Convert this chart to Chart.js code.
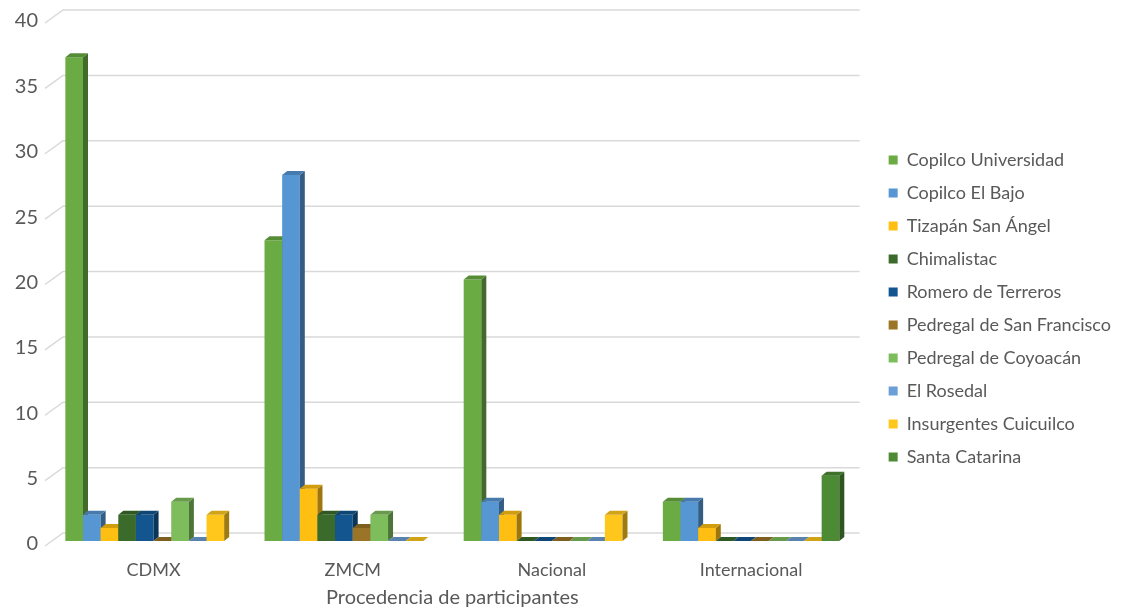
<!DOCTYPE html>
<html>
<head>
<meta charset="utf-8">
<script src="https://cdn.jsdelivr.net/npm/chart.js@4/dist/chart.umd.min.js"></script>
<style>
  html, body { margin: 0; padding: 0; background: #ffffff; }
  #wrap { width: 1121px; height: 610px; }
</style>
</head>
<body>
<div id="wrap"><canvas id="c" width="1121" height="610"></canvas></div>
<script>
// Participants by origin, one series per neighbourhood
const categories = ['CDMX', 'ZMCM', 'Nacional', 'Internacional'];
const seriesNames = [
  'Copilco Universidad', 'Copilco El Bajo', 'Tizapán San Ángel', 'Chimalistac',
  'Romero de Terreros', 'Pedregal de San Francisco', 'Pedregal de Coyoacán',
  'El Rosedal', 'Insurgentes Cuicuilco', 'Santa Catarina'
];
const copilcoUniversidad   = [37, 23, 20, 3];
const copilcoElBajo        = [2, 28, 3, 3];
const tizapanSanAngel      = [1, 4, 2, 1];
const chimalistac          = [2, 2, 0, 0];
const romeroDeTerreros     = [2, 2, 0, 0];
const pedregalSanFrancisco = [0, 1, 0, 0];
const pedregalCoyoacan     = [3, 2, 0, 0];
const elRosedal            = [0, 0, 0, 0];
const insurgentesCuicuilco = [2, 0, 2, 0];
const santaCatarina        = [null, null, null, 5];
const yTicks = [0, 5, 10, 15, 20, 25, 30, 35, 40];

const seriesValues = [
  copilcoUniversidad, copilcoElBajo, tizapanSanAngel, chimalistac,
  romeroDeTerreros, pedregalSanFrancisco, pedregalCoyoacan,
  elRosedal, insurgentesCuicuilco, santaCatarina
];
const seriesColors = [
  '#6aab43', '#5696d3', '#ffbf12', '#3b6b2a', '#12558f',
  '#9a7427', '#7dbd5c', '#6c9fd6', '#ffc71c', '#4c8a33'
];

const FONT = 'Lato, "Open Sans", sans-serif';
const TEXT = '#595959';

// depth of each column and offset of the back wall
const BAR_DX = 5, BAR_DY = 4;
const WALL_DX = 9, WALL_DY = 8;

function shade(hex, f) {
  const n = parseInt(hex.slice(1), 16);
  const r = Math.round(((n >> 16) & 255) * f);
  const g = Math.round(((n >> 8) & 255) * f);
  const b = Math.round((n & 255) * f);
  return `rgb(${r},${g},${b})`;
}

const columns3d = {
  id: 'columns3d',
  beforeDatasetsDraw(chart) {
    const { ctx, chartArea } = chart;
    const ys = chart.scales.y;
    ctx.save();
    ctx.strokeStyle = '#d9d9d9';
    ctx.lineWidth = 1.5;
    yTicks.forEach(v => {
      const y = ys.getPixelForValue(v);
      ctx.beginPath();
      ctx.moveTo(chartArea.left - WALL_DX, y + 5);
      ctx.lineTo(chartArea.left + WALL_DX, y - WALL_DY);
      ctx.lineTo(chartArea.right + WALL_DX, y - WALL_DY);
      ctx.stroke();
    });
    ctx.restore();
  },
  beforeDatasetDraw() {
    return false;
  },
  afterDatasetsDraw(chart) {
    const { ctx } = chart;
    ctx.save();
    chart.data.datasets.forEach((ds, i) => {
      const meta = chart.getDatasetMeta(i);
      const col = ds.backgroundColor;
      meta.data.forEach((bar, j) => {
        if (ds.data[j] == null) return;
        const { x, y, base, width } = bar.getProps(['x', 'y', 'base', 'width'], true);
        const l = x - width / 2, r = x + width / 2;
        // front face
        ctx.fillStyle = col;
        ctx.fillRect(l, y, width, base - y);
        // right side
        ctx.fillStyle = shade(col, 0.62);
        ctx.beginPath();
        ctx.moveTo(r, y);
        ctx.lineTo(r + BAR_DX, y - BAR_DY);
        ctx.lineTo(r + BAR_DX, base - BAR_DY);
        ctx.lineTo(r, base);
        ctx.closePath();
        ctx.fill();
        // top face
        ctx.fillStyle = shade(col, 0.82);
        ctx.beginPath();
        ctx.moveTo(l, y);
        ctx.lineTo(l + BAR_DX, y - BAR_DY);
        ctx.lineTo(r + BAR_DX, y - BAR_DY);
        ctx.lineTo(r, y);
        ctx.closePath();
        ctx.fill();
      });
    });
    ctx.restore();
  }
};

new Chart(document.getElementById('c'), {
  type: 'bar',
  data: {
    labels: categories,
    datasets: seriesNames.map((name, i) => ({
      label: name,
      data: seriesValues[i],
      backgroundColor: seriesColors[i],
      borderWidth: 0,
      categoryPercentage: 0.886,
      barPercentage: 1.0
    }))
  },
  options: {
    responsive: false,
    animation: false,
    devicePixelRatio: 1,
    layout: { padding: { top: 7, right: 0, bottom: 0, left: 0 } },
    plugins: {
      tooltip: { enabled: false },
      legend: {
        position: 'right',
        labels: {
          boxWidth: 9,
          boxHeight: 9,
          padding: 15,
          color: TEXT,
          font: { family: FONT, size: 18 }
        }
      }
    },
    scales: {
      x: {
        grid: { display: false, drawTicks: false },
        border: { display: false },
        ticks: { color: TEXT, font: { family: FONT, size: 18 }, padding: 18 },
        title: {
          display: true,
          text: 'Procedencia de participantes',
          color: TEXT,
          font: { family: FONT, size: 20 },
          padding: { top: 0, bottom: 0 }
        },
        afterFit(s) { s.height = 69; }
      },
      y: {
        min: 0,
        max: 40,
        grid: { display: false, drawTicks: false },
        border: { display: false },
        ticks: {
          stepSize: 5,
          color: TEXT,
          font: { family: FONT, size: 20 },
          padding: 16,
          labelOffset: 3
        },
        afterFit(s) {
          s.width = 54;
          s.paddingTop = 18;
          s.paddingBottom = 0;
        }
      },
      yR: {
        position: 'right',
        display: false,
        afterFit(s) { s.width = 23; }
      }
    }
  },
  plugins: [columns3d]
});
</script>
</body>
</html>
